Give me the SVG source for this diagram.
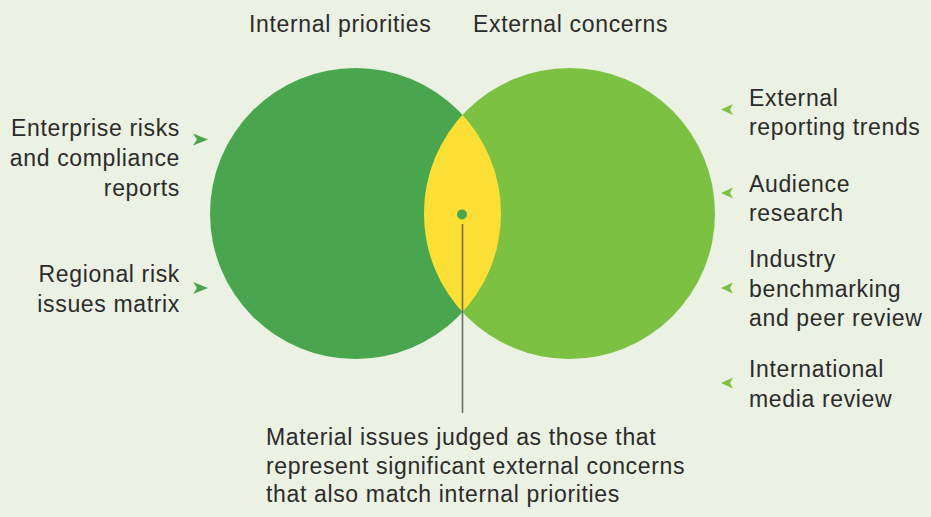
<svg xmlns="http://www.w3.org/2000/svg" width="931" height="517" viewBox="0 0 931 517">
  <defs>
    <style>
      .lbl { font-family: "Liberation Sans", Arial, sans-serif; font-size: 23px; letter-spacing: 0.65px; fill: #2b2b2b; }
      .end { text-anchor: end; }
      .arr-int { fill: #4aa64e; }
      .arr-ext { fill: #7dc142; }
    </style>
    <clipPath id="clipLeft">
      <circle cx="355.5" cy="213.5" r="145.5"/>
    </clipPath>
  </defs>

  <rect x="0" y="0" width="931" height="517" fill="#ebf1e3"/>

  <!-- Venn circles -->
  <g id="internal-circle">
    <circle cx="355.5" cy="213.5" r="145.5" fill="#4aa64e"/>
  </g>
  <g id="external-circle">
    <circle cx="569.5" cy="213.5" r="145.5" fill="#7dc142"/>
  </g>
  <g id="overlap">
    <circle cx="569.5" cy="213.5" r="145.5" fill="#fcdf35" clip-path="url(#clipLeft)"/>
  </g>

  <!-- Headings -->
  <g id="heading-internal">
    <text class="lbl" x="249" y="32">Internal priorities</text>
  </g>
  <g id="heading-external">
    <text class="lbl" x="473" y="32">External concerns</text>
  </g>

  <!-- Inputs on the left -->
  <g id="enterprise-risks">
    <text class="lbl end" x="180" y="136">Enterprise risks</text>
    <text class="lbl end" x="180" y="166">and compliance</text>
    <text class="lbl end" x="180" y="196">reports</text>
  </g>
  <g id="regional-risk">
    <text class="lbl end" x="180" y="282">Regional risk</text>
    <text class="lbl end" x="180" y="312">issues matrix</text>
  </g>

  <!-- Inputs on the right -->
  <g id="reporting-trends">
    <text class="lbl" x="749" y="106">External</text>
    <text class="lbl" x="749" y="135">reporting trends</text>
  </g>
  <g id="audience-research">
    <text class="lbl" x="749" y="192">Audience</text>
    <text class="lbl" x="749" y="221">research</text>
  </g>
  <g id="benchmarking">
    <text class="lbl" x="749" y="267">Industry</text>
    <text class="lbl" x="749" y="297">benchmarking</text>
    <text class="lbl" x="749" y="326">and peer review</text>
  </g>
  <g id="media-review">
    <text class="lbl" x="749" y="377">International</text>
    <text class="lbl" x="749" y="407">media review</text>
  </g>

  <!-- Material issues callout -->
  <g id="material-issues">
    <circle cx="462" cy="214.5" r="5" fill="#4aa64e"/>
    <text class="lbl" x="266" y="445">Material issues judged as those that</text>
    <text class="lbl" x="266" y="474">represent significant external concerns</text>
    <text class="lbl" x="266" y="502">that also match internal priorities</text>
  </g>

  <!-- Connectors -->
  <g id="connectors">
    <line x1="462.5" y1="224" x2="462.5" y2="413" stroke="#6e6e64" stroke-width="1.6"/>
    <path class="arr-int" d="M193,133.5 L208,139.5 L193,145.5 L197,139.5 Z"/>
    <path class="arr-int" d="M193,282 L208,288 L193,294 L197,288 Z"/>
    <path class="arr-ext" d="M721,109.5 L733,104 L730,109.5 L733,115 Z"/>
    <path class="arr-ext" d="M721,193 L733,187.5 L730,193 L733,198.5 Z"/>
    <path class="arr-ext" d="M721,288 L733,282.5 L730,288 L733,293.5 Z"/>
    <path class="arr-ext" d="M721,383 L733,377.5 L730,383 L733,388.5 Z"/>
  </g>
</svg>
